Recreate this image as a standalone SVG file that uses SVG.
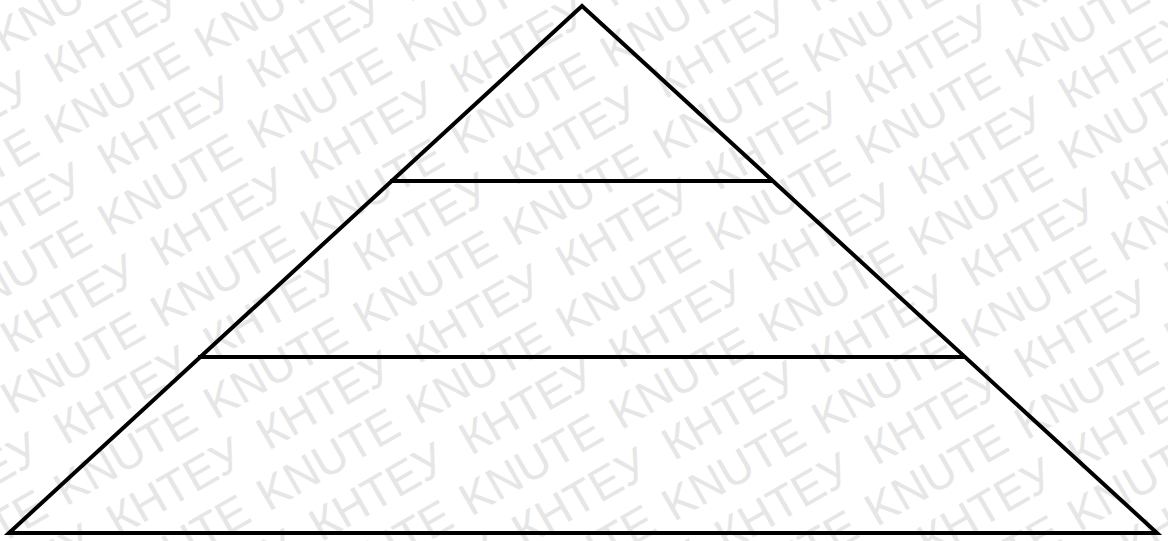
<svg xmlns="http://www.w3.org/2000/svg" xmlns:xlink="http://www.w3.org/1999/xlink" width="1168" height="541" viewBox="0 0 1168 541">
<style>
.wm{font-family:"Liberation Sans",Arial,sans-serif;font-size:46px;fill:#e6e6e6}
.edge{stroke:#000;stroke-width:4;fill:none;stroke-linejoin:miter;stroke-linecap:square}
</style>
<defs>
<text id="rk" class="wm"><tspan x="0">KNUTE</tspan><tspan x="173">KNUTE</tspan><tspan x="346">KNUTE</tspan><tspan x="519">KNUTE</tspan><tspan x="692">KNUTE</tspan><tspan x="865">KNUTE</tspan><tspan x="1038">KNUTE</tspan><tspan x="1211">KNUTE</tspan><tspan x="1384">KNUTE</tspan><tspan x="1557">KNUTE</tspan></text>
<text id="rc" class="wm"><tspan x="0">КНТЕУ</tspan><tspan x="173">КНТЕУ</tspan><tspan x="346">КНТЕУ</tspan><tspan x="519">КНТЕУ</tspan><tspan x="692">КНТЕУ</tspan><tspan x="865">КНТЕУ</tspan><tspan x="1038">КНТЕУ</tspan><tspan x="1211">КНТЕУ</tspan><tspan x="1384">КНТЕУ</tspan><tspan x="1557">КНТЕУ</tspan></text>
</defs>
<rect width="1168" height="541" fill="#fff"/>
<g id="watermark" transform="rotate(-30)">
<use xlink:href="#rc" x="-512.2" y="-4.4"/>
<use xlink:href="#rk" x="-542.5" y="48.5"/>
<use xlink:href="#rc" x="-512.2" y="101.4"/>
<use xlink:href="#rk" x="-542.5" y="154.3"/>
<use xlink:href="#rc" x="-512.2" y="207.2"/>
<use xlink:href="#rk" x="-542.5" y="260.1"/>
<use xlink:href="#rc" x="-512.2" y="313"/>
<use xlink:href="#rk" x="-542.5" y="365.9"/>
<use xlink:href="#rc" x="-512.2" y="418.8"/>
<use xlink:href="#rk" x="-542.5" y="471.7"/>
<use xlink:href="#rc" x="-512.2" y="524.6"/>
<use xlink:href="#rk" x="-542.5" y="577.5"/>
<use xlink:href="#rc" x="-512.2" y="630.4"/>
<use xlink:href="#rk" x="-542.5" y="683.3"/>
<use xlink:href="#rc" x="-512.2" y="736.2"/>
<use xlink:href="#rk" x="-542.5" y="789.1"/>
<use xlink:href="#rc" x="-512.2" y="842"/>
<use xlink:href="#rk" x="-542.5" y="894.9"/>
<use xlink:href="#rc" x="-512.2" y="947.8"/>
<use xlink:href="#rk" x="-542.5" y="1000.7"/>
<use xlink:href="#rc" x="-512.2" y="1053.6"/>
</g>
<g id="pyramid">
<polygon class="edge" points="582,6 9,533 1157,533"/>
<line class="edge" x1="392" y1="181" x2="772" y2="181"/>
<line class="edge" x1="200" y1="357" x2="964" y2="357"/>
</g>
</svg>
